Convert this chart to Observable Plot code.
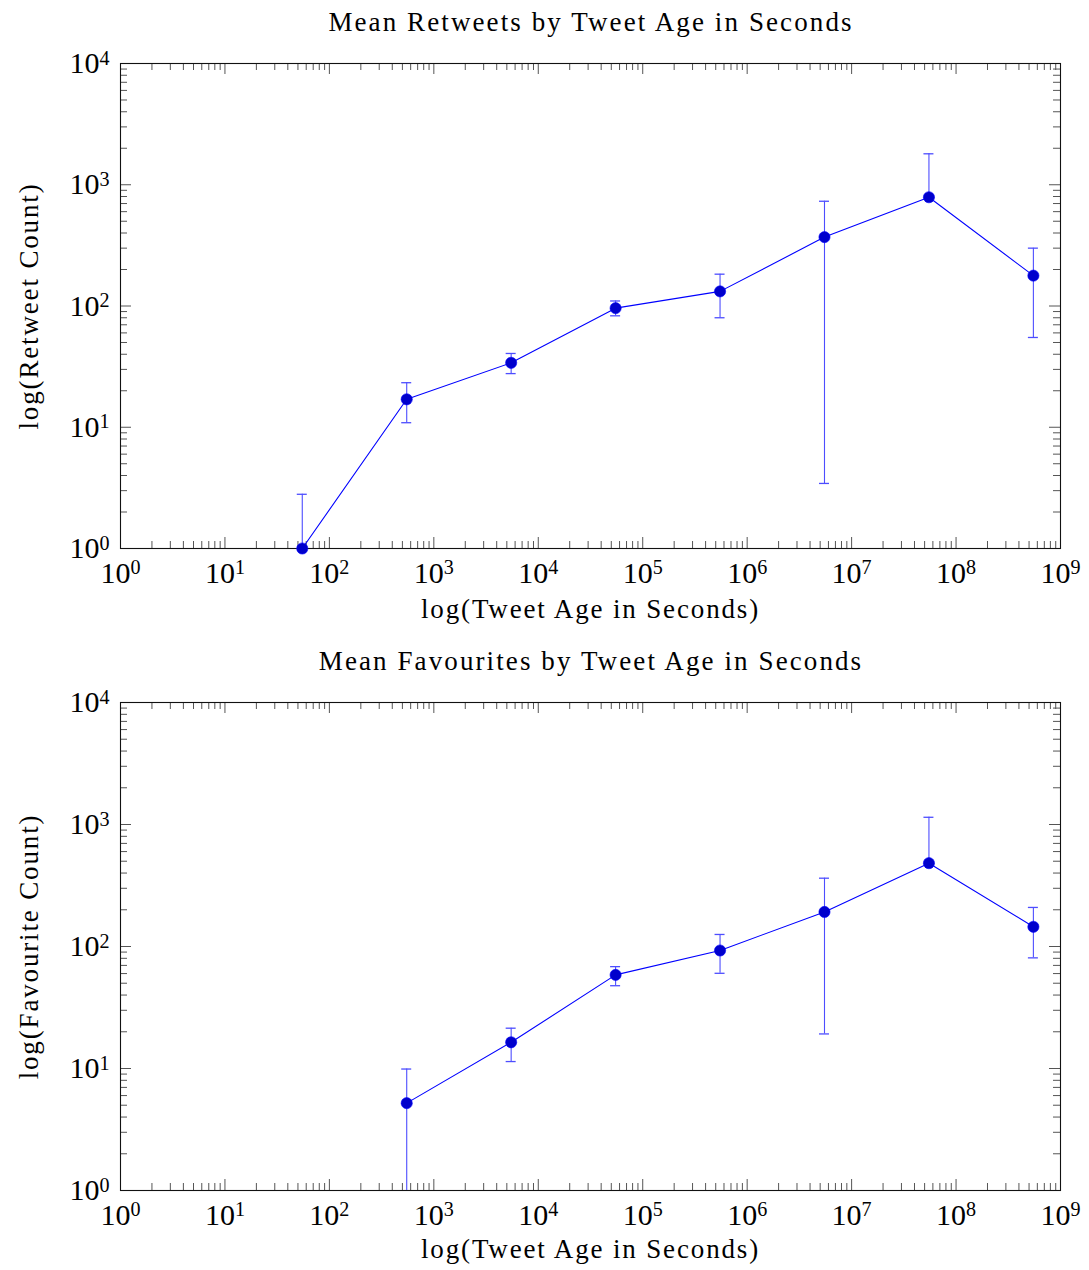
<!DOCTYPE html>
<html>
<head>
<meta charset="utf-8">
<script src="https://cdn.jsdelivr.net/npm/d3@7"></script>
<script src="https://cdn.jsdelivr.net/npm/@observablehq/plot@0.6"></script>
<style>
  body { margin: 0; background: #fff; width: 1089px; }
  .title { font-family: "Liberation Serif", serif; font-size: 27px; text-align: center;
           color: #000; padding-left: 93px; box-sizing: border-box; width: 1089px; letter-spacing: 2.1px; }
  svg { display: block; }
</style>
</head>
<body>
<div id="root"></div>
<script>
// ---- data ----
const retweetAge   = [55, 550, 5500, 55000, 550000, 5500000, 55000000, 550000000];
const retweetMean  = [1.0, 17.0, 34.0, 96, 132, 370, 789, 178];
const retweetUpper = [2.8, 23.3, 40.6, 110, 183, 731, 1800, 300];
const retweetLower = [null, 10.9, 27.7, 83, 80, 3.44, null, 55];

const favouriteAge   = [550, 5500, 55000, 550000, 5500000, 55000000, 550000000];
const favouriteMean  = [5.2, 16.4, 58.5, 92.7, 192, 482, 145];
const favouriteUpper = [9.9, 21.4, 68.4, 125.5, 363, 1146, 209];
const favouriteLower = [0.5, 11.4, 47.7, 60.3, 19.2, null, 80.7];

const xMajorExp = [0, 1, 2, 3, 4, 5, 6, 7, 8, 9];
const yMajorExp = [0, 1, 2, 3, 4];
const minorMultipliers = [2, 3, 4, 5, 6, 7, 8, 9];

const titles = ["Mean Retweets by Tweet Age in Seconds", "Mean Favourites by Tweet Age in Seconds"];
const xLabel = "log(Tweet Age in Seconds)";
const yLabels = ["log(Retweet Count)", "log(Favourite Count)"];

// ---- derived tick sets ----
const xMajor = xMajorExp.map(e => 10 ** e);
const yMajor = yMajorExp.map(e => 10 ** e);
const xMinor = xMajorExp.slice(0, -1).flatMap(e => minorMultipliers.map(m => m * 10 ** e));
const yMinor = yMajorExp.slice(0, -1).flatMap(e => minorMultipliers.map(m => m * 10 ** e));
const powFmt = d => "10^" + Math.round(Math.log10(d));

const W = 1089, mL = 120, mR = 29;
const FONT = '"Liberation Serif", serif';

function chart({title, titleHeight, svgHeight, mT, mB, xLabelOffset, ylabel, xs, mean, upper, lower}) {
  const rows = xs.map((x, i) => ({x, mean: mean[i], upper: upper[i], lower: lower[i]}));
  const boxH = svgHeight - mT - mB;
  const boxW = W - mL - mR;
  const major = 11, minor = 7, tickColor = "#555";
  const errColor = "#4d4dff";
  const plot = Plot.plot({
    width: W, height: svgHeight,
    marginLeft: mL, marginRight: mR, marginTop: mT, marginBottom: mB,
    style: {fontFamily: FONT, fontSize: "30px", color: "#000", background: "#fff", overflow: "visible"},
    x: {type: "log", domain: [1, 1e9]},
    y: {type: "log", domain: [1, 1e4]},
    marks: [
      // inward ticks on all four sides
      Plot.tickX(xMinor, {x: d => d, insetTop: boxH - minor, stroke: tickColor}),
      Plot.tickX(xMinor, {x: d => d, insetBottom: boxH - minor, stroke: tickColor}),
      Plot.tickX(xMajor, {x: d => d, insetTop: boxH - major, stroke: tickColor}),
      Plot.tickX(xMajor, {x: d => d, insetBottom: boxH - major, stroke: tickColor}),
      Plot.tickY(yMinor, {y: d => d, insetRight: boxW - minor, stroke: tickColor}),
      Plot.tickY(yMinor, {y: d => d, insetLeft: boxW - minor, stroke: tickColor}),
      Plot.tickY(yMajor, {y: d => d, insetRight: boxW - major, stroke: tickColor}),
      Plot.tickY(yMajor, {y: d => d, insetLeft: boxW - major, stroke: tickColor}),
      Plot.axisX({ticks: xMajor, tickFormat: powFmt, tickSize: 0, tickPadding: 13,
                  label: xLabel, labelAnchor: "center", labelOffset: xLabelOffset, labelArrow: "none"}),
      Plot.axisY({ticks: yMajor, tickFormat: powFmt, tickSize: 0, tickPadding: 11,
                  label: ylabel, labelAnchor: "center", labelOffset: 102, labelArrow: "none"}),
      Plot.frame({stroke: "#111", strokeWidth: 1.1}),
      // error bars
      Plot.ruleX(rows, {x: "x", y1: d => d.lower ?? d.mean, y2: "upper", stroke: errColor, strokeWidth: 1.1, clip: true}),
      Plot.ruleY(rows, {y: "upper", x1: "x", x2: "x", insetLeft: -5, insetRight: -5, stroke: errColor, strokeWidth: 1.3, clip: true}),
      Plot.ruleY(rows.filter(d => d.lower != null), {y: "lower", x1: "x", x2: "x", insetLeft: -5, insetRight: -5, stroke: errColor, strokeWidth: 1.3, clip: true}),
      // series
      Plot.line(rows, {x: "x", y: "mean", stroke: "#0000ff", strokeWidth: 1.1}),
      Plot.dot(rows, {x: "x", y: "mean", r: 5.6, fill: "#0000cc", stroke: "#0000ff", strokeWidth: 0.6})
    ]
  });
  // superscript exponents on tick labels
  d3.select(plot).selectAll("text").each(function() {
    const t = this.textContent;
    const m = /^10\^(\d)$/.exec(t);
    if (m) {
      this.textContent = "10";
      d3.select(this).attr("font-size", "30px");
      d3.select(this).append("tspan").attr("dy", "-0.42em").attr("font-size", "0.67em").text(m[1]);
    }
  });
  d3.select(plot).selectAll("[aria-label='x-axis label'] text, [aria-label='y-axis label'] text")
    .attr("font-size", "27px").style("letter-spacing", "1.85px");
  const wrap = document.createElement("div");
  const td = document.createElement("div");
  td.className = "title";
  td.style.height = titleHeight + "px";
  td.style.lineHeight = titleHeight + "px";
  td.textContent = title;
  wrap.appendChild(td);
  wrap.appendChild(plot);
  return wrap;
}

const root = document.getElementById("root");
root.appendChild(chart({title: titles[0], titleHeight: 44, svgHeight: 596, mT: 19, mB: 92, xLabelOffset: 69,
  ylabel: yLabels[0], xs: retweetAge, mean: retweetMean, upper: retweetUpper, lower: retweetLower}));
root.appendChild(chart({title: titles[1], titleHeight: 42, svgHeight: 588, mT: 20, mB: 80, xLabelOffset: 67,
  ylabel: yLabels[1], xs: favouriteAge, mean: favouriteMean, upper: favouriteUpper, lower: favouriteLower}));
</script>
</body>
</html>
